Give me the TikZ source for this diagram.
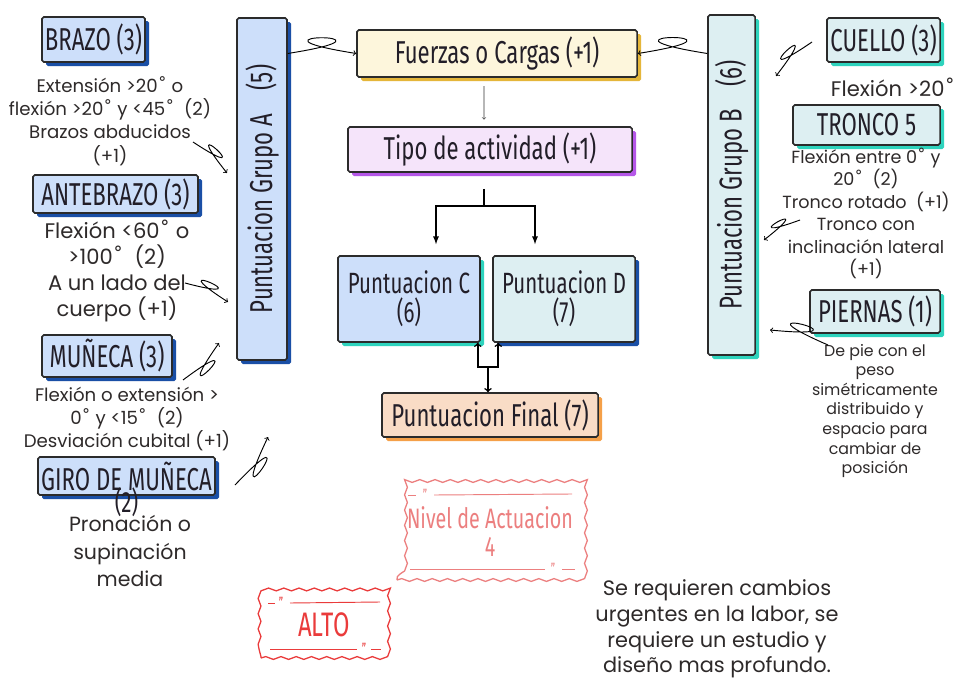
\documentclass[tikz,border=0pt]{standalone}
\usepackage{fontspec}
\setmainfont{Poppins}
\newfontfamily\headfont[FakeStretch=0.7]{Fira Sans}
\newfontfamily\dejavu{DejaVu Sans}
\newcommand\grado{{\dejavu ˚}}
\usetikzlibrary{arrows,shadows,positioning,decorations.pathmorphing}
\definecolor{lblue}{HTML}{CDDFFA}
\definecolor{dkblue}{HTML}{1A4FA6}
\definecolor{lteal}{HTML}{DDEFF2}
\definecolor{teal}{HTML}{2ED3BD}
\definecolor{cream}{HTML}{FDF6DC}
\definecolor{gold}{HTML}{E5B63A}
\definecolor{lavender}{HTML}{F5E4FA}
\definecolor{purple}{HTML}{B557E8}
\definecolor{peach}{HTML}{F9DCC6}
\definecolor{orange}{HTML}{F5A048}
\definecolor{boxline}{HTML}{2B2B2B}
\definecolor{headtxt}{HTML}{221E28}
\definecolor{bodytxt}{HTML}{2E2A2A}
\definecolor{stampred}{HTML}{EC7F7F}
\definecolor{altored}{HTML}{EA3B3B}

\begin{document}
\begin{tikzpicture}[x=0.03cm,y=-0.03cm,
    box/.style={draw=boxline, line width=1.3pt, rounded corners=1.5pt, text=headtxt,
      font=\headfont\fontsize{27}{21}\selectfont, align=center, inner sep=0pt},
    shade/.style={drop shadow={shadow xshift=3.5pt,shadow yshift=-3.5pt,fill=#1,opacity=1}},
    txt/.style={align=center, text=bodytxt, inner sep=0pt},
    squig/.style={->, line width=0.8pt, black},
    thickarrow/.style={line width=1.3pt, black},
    stamp/.style={draw=#1, line width=1.1pt, decorate, decoration={snake,segment length=13pt,amplitude=1.2pt}},
    stampline/.style={draw=#1, line width=0.8pt},
    quote/.style={text=#1, font=\headfont\fontsize{13}{13}\selectfont, inner sep=0pt}]
       \fill[white] (0,0) rectangle (957,681);
       \useasboundingbox (0,0) rectangle (957,681);

       % grupo A
       \node[box, shade=dkblue, fill=lblue, minimum width=1.5cm, minimum height=10.26cm] (grupoA) at (262,189) {\rotatebox{90}{Puntuacion Grupo A\hspace{0.7cm}(5)}};
       \node[box, shade=dkblue, fill=lblue, minimum width=3.09cm, minimum height=1.35cm] (brazo) at (93.5,39.5) {BRAZO (3)};
       \node[txt, font=\fontsize{15.5}{20}\selectfont] (brazoTxt) at (110,121) {Extensión >20\grado{} o\\flexión >20\grado{} y <45\grado\ \ (2)\\Brazos abducidos\\(+1)};
       \node[box, shade=dkblue, fill=lblue, minimum width=4.95cm, minimum height=1.14cm] (antebrazo) at (115.5,194) {ANTEBRAZO (3)};
       \node[txt, font=\fontsize{18}{22}\selectfont] (anteTxt) at (117,271) {Flexión <60\grado{} o\\>100\grado\ \ (2)\\A un lado del\\cuerpo (+1)};
       \node[box, shade=dkblue, fill=lblue, minimum width=3.9cm, minimum height=1.26cm] (muneca) at (107,356) {MUÑECA (3)};
       \node[txt, font=\fontsize{15.5}{19.5}\selectfont] (munTxt) at (127,419) {Flexión o extensión >\\0\grado{} y <15\grado\ \ (2)\\Desviación cubital (+1)};
       \node[box, shade=dkblue, fill=lblue, minimum width=5.31cm, minimum height=1.14cm,
         label={[label distance=-0.35cm, text=headtxt, font=\headfont\fontsize{25}{21}\selectfont]below:(2)}] (giro) at (126.5,476) {GIRO DE MUÑECA};
       \node[txt, font=\fontsize{17.5}{23.4}\selectfont] (giroTxt) at (130,551) {Pronación o\\supinación\\media};

       % centro
       \node[box, shade=gold, fill=cream, minimum width=8.4cm, minimum height=1.41cm] (fuerzas) at (497,53.5) {Fuerzas o Cargas (+1)};
       \node[box, shade=purple, fill=lavender, minimum width=8.52cm, minimum height=1.35cm] (tipo) at (490,149.5) {Tipo de actividad (+1)};
       \node[box, shade=teal, fill=lblue, minimum width=4.26cm, minimum height=2.58cm,
         font=\headfont\fontsize{25}{25}\selectfont] (puntC) at (409,299) {Puntuacion C\\(6)};
       \node[box, shade=dkblue, fill=lteal, minimum width=4.26cm, minimum height=2.58cm,
         font=\headfont\fontsize{25}{25}\selectfont] (puntD) at (564,299) {Puntuacion D\\(7)};
       \node[box, shade=orange, fill=peach, minimum width=6.48cm, minimum height=1.32cm] (final) at (490,415) {Puntuacion Final (7)};

       \draw[->, line width=0.5pt, black!80] ([xshift=-0.39cm,yshift=-0.25cm]fuerzas.south) -- ([xshift=-0.18cm,yshift=0.2cm]tipo.north);
       \coordinate (split) at (484,206);
       \draw[thickarrow] ([xshift=-0.18cm,yshift=-0.48cm]tipo.south) -- (split);
       \draw[thickarrow, -latex] (split) -| ([xshift=0.81cm,yshift=0.33cm]puntC.north);
       \draw[thickarrow, -latex] (split) -| ([xshift=-0.87cm,yshift=0.33cm]puntD.north);
       \coordinate (join) at (488,367);
       \draw[thickarrow, ->] (join) -- (final.north -| join);
       \draw[thickarrow, ->] (join) -| ([xshift=-0.09cm]puntC.south east);
       \draw[thickarrow, ->] (join) -| ([xshift=0.18cm]puntD.south west);

       % grupo B
       \node[box, shade=teal, fill=lteal, minimum width=1.41cm, minimum height=10.2cm] (grupoB) at (731.5,185) {\rotatebox{90}{Puntuacion Grupo B\hspace{0.7cm}(6)}};
       \node[box, shade=teal, fill=lteal, minimum width=3.39cm, minimum height=1.32cm] (cuello) at (883.5,40) {CUELLO (3)};
       \node[txt, font=\fontsize{18}{20}\selectfont] (cuelloTxt) at (893,87) {Flexión >20\grado};
       \node[box, shade=teal, fill=lteal, minimum width=4.41cm, minimum height=1.2cm] (tronco) at (866.5,125) {TRONCO 5};
       \node[txt, font=\fontsize{15}{19.2}\selectfont] (troncoTxt) at (866,213.5) {Flexión entre 0\grado{} y\\20\grado\ \ (2)\\Tronco rotado\ \ (+1)\\Tronco con\\inclinación lateral\\(+1)};
       \node[box, shade=teal, fill=lteal, minimum width=3.9cm, minimum height=1.29cm] (piernas) at (875,311.5) {PIERNAS (1)};
       \node[txt, font=\fontsize{13.5}{16.7}\selectfont] (piernasTxt) at (875,411) {De pie con el\\peso\\simétricamente\\distribuido y\\espacio para\\cambiar de\\posición};

       % flechas en espiral
       \draw[squig] (grupoA.east |- fuerzas.west) .. controls (420,32.5) and (224,32.5) .. (fuerzas.west);
       \draw[squig] (grupoB.west |- fuerzas.east) .. controls (573.1,32.2) and (771.9,32.2) .. (fuerzas.east);
       \coordinate (fromBrazo) at (193,142);
       \coordinate (toA1) at (227,173);
       \draw[squig] (fromBrazo) .. controls (266.9,190.7) and (171.7,103.9) .. (toA1);
       \coordinate (fromAnte) at (185,283);
       \coordinate (toA2) at (228,302);
       \draw[squig] (fromAnte) .. controls (272.4,306.2) and (152,253) .. (toA2);
       \coordinate (fromMun) at (183,380);
       \coordinate (toA3) at (219,343);
       \draw[squig] (fromMun) .. controls (262.5,320.5) and (161.7,424.1) .. (toA3);
       \coordinate (fromGiro) at (235,485);
       \coordinate (toA4) at (268,437);
       \draw[squig] (fromGiro) .. controls (312.1,403.7) and (219.7,538.1) .. (toA4);
       \coordinate (fromCuello) at (812,42);
       \coordinate (toB1) at (776,76);
       \draw[squig] (fromCuello) .. controls (733.4,95.8) and (834.2,0.6) .. (toB1);
       \coordinate (fromTronco) at (800,220);
       \coordinate (toB2) at (764,240);
       \draw[squig] (fromTronco) .. controls (725.6,247.2) and (826.4,191.2) .. (toB2);
       \coordinate (fromPiernas) at (828,345);
       \coordinate (toB3) at (770,330);
       \draw[squig] (fromPiernas) .. controls (722.3,299.1) and (884.7,341.1) .. (toB3);

       % sellos
       \node[stamp=stampred, minimum width=5.58cm, minimum height=2.91cm, text=stampred, align=center,
         font=\headfont\fontsize{24}{24}\selectfont] (nivel) at (490,531.5) {Nivel de Actuacion\\4};
       \draw[stampline=stampred] (408,495) -- (416,495);
       \node[quote=stampred] (q1) at (425,495) {”};
       \draw[stampline=stampred] (434,495) -- (572,494);
       \draw[stampline=stampred] (410,569) -- (545,569);
       \node[quote=stampred] (q2) at (553,569) {”};
       \draw[stampline=stampred] (562,569) -- (575,569);

       \node[stamp=altored, minimum width=3.78cm, minimum height=1.98cm, text=altored,
         font=\headfont\fontsize{29}{29}\selectfont] (alto) at (324,625) {ALTO};
       \draw[stampline=altored] (268,603) -- (275,603);
       \node[quote=altored] (q3) at (281,603) {”};
       \draw[stampline=altored] (290,603) -- (380,602);
       \draw[stampline=altored] (270,649) -- (357,649);
       \node[quote=altored] (q4) at (364,649) {”};
       \draw[stampline=altored] (371,649) -- (381,649);

       \node[txt, font=\fontsize{17.8}{22}\selectfont] (accionTxt) at (717,629) {Se requieren cambios\\urgentes en la labor, se\\requiere un estudio y\\diseño mas profundo.};
\end{tikzpicture}
\end{document}
